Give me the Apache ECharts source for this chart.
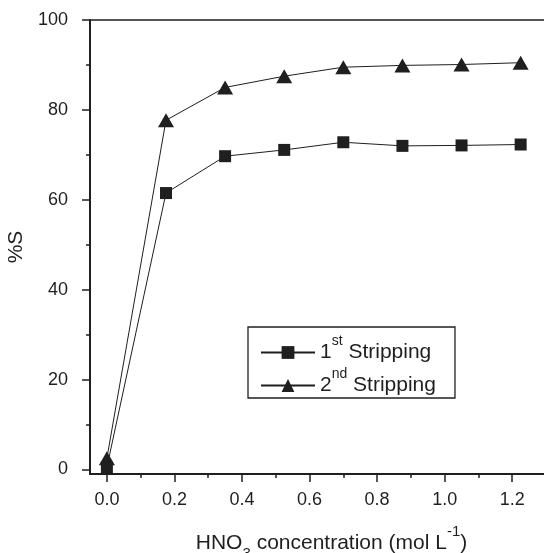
<!DOCTYPE html>
<html>
<head>
<meta charset="utf-8">
<script src="https://cdn.jsdelivr.net/npm/echarts@6/dist/echarts.min.js"></script>
<style>
html, body { margin: 0; padding: 0; background: #fff; }
#main { width: 544px; height: 553px; }
</style>
</head>
<body>
<div id="main"></div>
<script>
// HNO3 concentration, mol/L
var concentration = [0, 0.175, 0.35, 0.525, 0.7, 0.875, 1.05, 1.225]
// %S
var firstStripping = [0.5, 61.5, 69.7, 71.1, 72.8, 72.0, 72.1, 72.3]
var secondStripping = [2.5, 77.7, 85.0, 87.5, 89.5, 89.9, 90.1, 90.5]

var xMajorTicks = [0, 0.2, 0.4, 0.6, 0.8, 1.0, 1.2]
var xMinorTicks = [0.1, 0.3, 0.5, 0.7, 0.9, 1.1, 1.3]
var yMajorTicks = [0, 20, 40, 60, 80, 100]
var yMinorTicks = [10, 30, 50, 70, 90]

function pairs(xs, ys) {
  return xs.map(function (x, i) { return [x, ys[i]] })
}

var ink = '#1f1f1f'
var font = 'Liberation Sans, Arial, sans-serif'

var chart = echarts.init(document.getElementById('main'))

var xBase = { type: 'value', min: -0.05, max: 1.38, position: 'bottom', splitLine: { show: false } }
var yBase = { type: 'value', min: -1, max: 100, position: 'left', splitLine: { show: false } }

var option = {
  animation: false,
  backgroundColor: '#fff',
  textStyle: { fontFamily: font, color: ink },
  grid: {
    left: 90, right: -29, top: 20, bottom: 79,
    outerBoundsMode: 'none',
    containLabel: false,
    show: true, borderColor: ink, borderWidth: 1.5
  },
  legend: {
    left: 248,
    top: 327,
    orient: 'vertical',
    itemWidth: 54,
    itemHeight: 16,
    itemGap: 4,
    padding: [7, 19, 2, 12],
    borderColor: ink,
    borderWidth: 1.3,
    data: ['1st Stripping', '2nd Stripping'],
    formatter: function (name) {
      return '{n|' + name.charAt(0) + '}{sup|' + name.substr(1, 2) + '}{n|' + name.substr(3) + '}'
    },
    textStyle: {
      fontFamily: font,
      color: ink,
      rich: {
        n: { fontFamily: font, fontSize: 21, verticalAlign: 'bottom', padding: [9, 0, 9, 0], color: ink },
        sup: { fontFamily: font, fontSize: 14, verticalAlign: 'bottom', padding: [0, 0, 24, 0], color: ink }
      }
    }
  },
  xAxis: [
    Object.assign({}, xBase, {
      name: '{n|HNO}{sub|3}{n| concentration (mol L}{sup|-1}{n|)}',
      nameLocation: 'middle',
      nameGap: 50,
      nameTextStyle: {
        rich: {
          n: { fontFamily: font, fontSize: 21, color: ink, verticalAlign: 'bottom', padding: [0, 0, 7, 0] },
          sub: { fontFamily: font, fontSize: 15, color: ink, verticalAlign: 'bottom' },
          sup: { fontFamily: font, fontSize: 15, color: ink, verticalAlign: 'bottom', padding: [0, 0, 22, 0] }
        }
      },
      axisLine: { onZero: false, lineStyle: { color: ink, width: 2 } },
      axisTick: { show: true, length: 8, customValues: xMajorTicks, lineStyle: { color: ink, width: 1.5 } },
      axisLabel: {
        customValues: xMajorTicks,
        fontSize: 18,
        margin: 17,
        color: ink,
        fontFamily: font,
        formatter: function (v) { return v.toFixed(1) }
      }
    }),
    Object.assign({}, xBase, {
      offset: 0,
      axisLine: { show: false, onZero: false },
      axisTick: { show: true, length: 4, customValues: xMinorTicks, lineStyle: { color: ink, width: 1.5 } },
      axisLabel: { show: false }
    })
  ],
  yAxis: [
    Object.assign({}, yBase, {
      name: '%S',
      nameLocation: 'middle',
      nameGap: 48,
      nameTextStyle: { fontSize: 21, color: ink, fontFamily: font },
      axisLine: { onZero: false, lineStyle: { color: ink, width: 2 } },
      axisTick: { show: true, length: 8, customValues: yMajorTicks, lineStyle: { color: ink, width: 1.5 } },
      axisLabel: { customValues: yMajorTicks, fontSize: 18, margin: 22, color: ink, fontFamily: font }
    }),
    Object.assign({}, yBase, {
      offset: 0,
      axisLine: { show: false, onZero: false },
      axisTick: { show: true, length: 4, customValues: yMinorTicks, lineStyle: { color: ink, width: 1.5 } },
      axisLabel: { show: false }
    })
  ],
  series: [
    {
      name: '1st Stripping',
      type: 'line',
      data: pairs(concentration, firstStripping),
      symbol: 'rect',
      symbolSize: 12,
      itemStyle: { color: ink },
      lineStyle: { color: ink, width: 1 },
      z: 3
    },
    {
      name: '2nd Stripping',
      type: 'line',
      data: pairs(concentration, secondStripping),
      symbol: 'triangle',
      symbolSize: [16, 14],
      itemStyle: { color: ink },
      lineStyle: { color: ink, width: 1 },
      z: 4
    }
  ]
}

chart.setOption(option)
</script>
</body>
</html>
